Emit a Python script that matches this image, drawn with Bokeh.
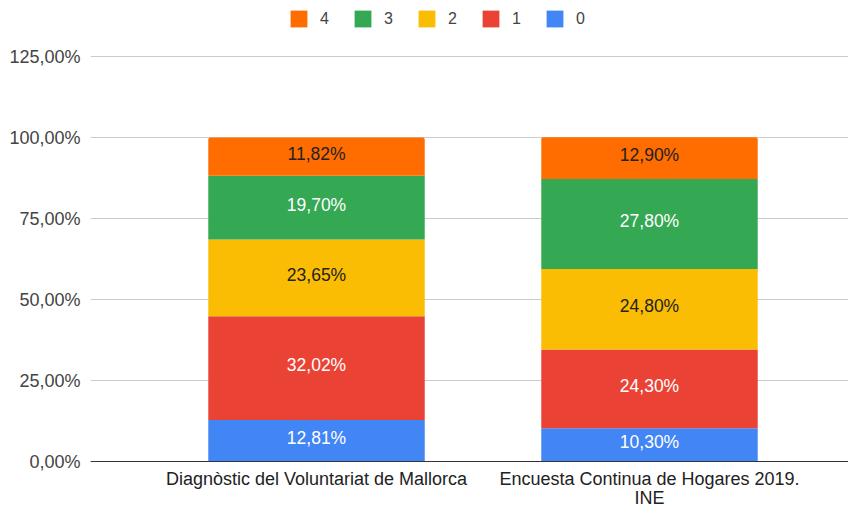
import numpy as np
from bokeh.plotting import figure
from bokeh.models import FixedTicker, CustomJSTickFormatter, Legend, LegendItem, Range1d, Span
from bokeh.core.properties import value
from bokeh.embed import file_html
from bokeh.resources import INLINE

categories = ["Diagnòstic del Voluntariat de Mallorca", "Encuesta Continua de Hogares 2019.\nINE"]
series_names = ["0", "1", "2", "3", "4"]
v0 = [12.81, 10.30]
v1 = [32.02, 24.30]
v2 = [23.65, 24.80]
v3 = [19.70, 27.80]
v4 = [11.82, 12.90]
y_ticks = [0, 25, 50, 75, 100, 125]

colors = ["#4285F4", "#EA4335", "#FBBC04", "#34A853", "#FF6D01"]
label_colors = ["#ffffff", "#ffffff", "#222222", "#ffffff", "#222222"]
FONT = "Liberation Sans"

series = [v0, v1, v2, v3, v4]
xs = [i + 0.5 for i in range(len(categories))]

W, H = 848, 507
Y_TOP_PX, Y_ZERO_PX = 56, 461          # pixel rows of 125 % and 0 %
scale = (Y_ZERO_PX - Y_TOP_PX) / y_ticks[-1]
y_end = y_ticks[-1] + Y_TOP_PX / scale
y_start = -(H - Y_ZERO_PX) / scale

p = figure(width=W, height=H, output_backend="svg", toolbar_location=None,
           x_range=Range1d(-0.1787, 2.0976), y_range=Range1d(y_start, y_end),
           min_border_left=90, min_border_right=0, min_border_top=0, min_border_bottom=0)
p.outline_line_color = None
p.background_fill_color = "white"
p.border_fill_color = "white"

bottom = np.zeros(len(categories))
renderers = []
for k, vals in enumerate(series):
    vals = np.array(vals, dtype=float)
    top = bottom + vals
    radius = [2, 2, 0, 0] if k == len(series) - 1 else 0
    r = p.vbar(x=xs, width=0.65, bottom=bottom, top=top, fill_color=colors[k],
               line_color=None, border_radius=radius)
    renderers.append(r)
    mids = bottom + vals / 2
    texts = [f"{v:.2f}".replace(".", ",") + "%" for v in vals]
    p.text(x=xs, y=mids, text=texts, text_align="center", text_baseline="middle",
           y_offset=-3, text_font=value(FONT), text_font_size="17.5px",
           text_color=label_colors[k])
    bottom = top

# baseline (category axis line)
p.add_layout(Span(location=0, dimension="width", line_color="#333333", line_width=1))

# category labels below the baseline
p.text(x=xs, y=[0] * len(xs), text=categories, text_align="center", text_baseline="top",
       y_offset=7, text_font=value(FONT), text_font_size="18px", text_color="#222222",
       text_line_height=0.95)

items = [LegendItem(label=series_names[k], renderers=[renderers[k]])
         for k in reversed(range(len(series)))]
legend = Legend(items=items, orientation="horizontal", location=(198, H - 29),
                glyph_width=21, glyph_height=21, label_height=21, label_width=9,
                label_standoff=11, spacing=23, padding=0, margin=0,
                border_line_color=None, background_fill_alpha=0, label_text_font=FONT,
                label_text_font_size="16px", label_text_color="#444444",
                label_text_baseline="middle")
p.add_layout(legend, "center")

p.yaxis.ticker = FixedTicker(ticks=y_ticks)
p.yaxis.formatter = CustomJSTickFormatter(code="return tick.toFixed(2).replace('.', ',') + '%';")
p.yaxis.axis_line_color = None
p.yaxis.major_tick_line_color = None
p.yaxis.minor_tick_line_color = None
p.yaxis.major_label_standoff = 4
p.yaxis.major_label_text_font = FONT
p.yaxis.major_label_text_font_size = "18px"
p.yaxis.major_label_text_color = "#444444"

p.xaxis.visible = False
p.xgrid.visible = False
p.ygrid.ticker = FixedTicker(ticks=y_ticks)
p.ygrid.grid_line_color = "#cccccc"

open("out.html", "w").write(file_html(p, INLINE))
